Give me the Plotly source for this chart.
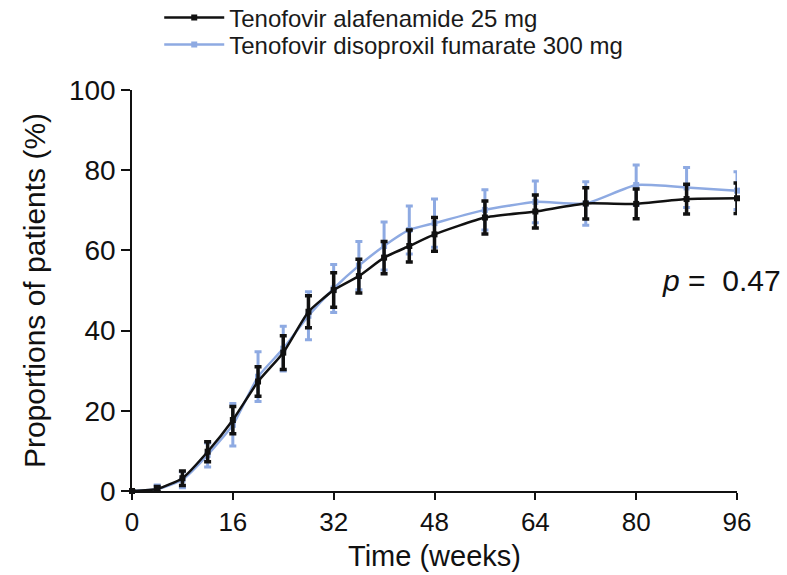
import plotly.graph_objects as go

weeks = [0, 4, 8, 12, 16, 20, 24, 28, 32, 36, 40, 44, 48, 56, 64, 72, 80, 88, 96]

taf_pct = [0, 0.5, 3.2, 9.8, 17.7, 27.3, 34.5, 44.7, 50.1, 53.6, 58.2, 61.1, 64.0,
           68.2, 69.7, 71.7, 71.6, 72.8, 73.0]
taf_err = [0, 0.6, 1.8, 2.5, 3.4, 3.7, 4.2, 4.0, 4.3, 4.2, 4.0, 4.0, 4.2,
           4.1, 4.1, 3.9, 3.7, 3.7, 3.8]

tdf_pct = [0, 0.5, 2.8, 9.0, 16.5, 28.5, 35.5, 43.7, 50.5, 56.2, 61.1, 65.1, 66.8,
           70.1, 72.1, 71.7, 76.3, 75.7, 74.9]
tdf_err = [0, 1.0, 2.0, 3.0, 5.3, 6.2, 5.6, 6.0, 6.0, 6.0, 6.0, 6.0, 6.0,
           5.0, 5.2, 5.4, 5.0, 5.0, 4.7]

x_ticks = [0, 16, 32, 48, 64, 80, 96]
y_ticks = [0, 20, 40, 60, 80, 100]

FONT = "Liberation Sans, Arial, sans-serif"
BLUE = "#8eaae2"
BLACK = "#111111"

fig = go.Figure()

fig.add_trace(go.Scatter(
    x=weeks, y=tdf_pct, mode="lines+markers",
    name="Tenofovir disoproxil fumarate 300 mg", legend="legend2",
    line=dict(color=BLUE, width=2.5, shape="spline", smoothing=0.5),
    marker=dict(symbol="square", size=6, color=BLUE),
    error_y=dict(type="data", array=tdf_err, visible=True,
                 color=BLUE, thickness=3, width=3.5),
    cliponaxis=False,
))

fig.add_trace(go.Scatter(
    x=weeks, y=taf_pct, mode="lines+markers",
    name="Tenofovir alafenamide 25 mg", legend="legend",
    line=dict(color=BLACK, width=2.5, shape="spline", smoothing=0.5),
    marker=dict(symbol="square", size=6, color=BLACK),
    error_y=dict(type="data", array=taf_err, visible=True,
                 color=BLACK, thickness=3.5, width=3.5),
    cliponaxis=False,
))

fig.add_annotation(
    x=1.076, y=0.524, xref="paper", yref="paper",
    text="<i>p</i> =  0.47", showarrow=False,
    xanchor="right", yanchor="middle",
    font=dict(family=FONT, size=30, color="#111111"),
)

# x-axis title placed as an annotation so it sits close under the tick labels
fig.add_annotation(
    x=0.5, y=-0.162, xref="paper", yref="paper",
    text="Time (weeks)", showarrow=False,
    xanchor="center", yanchor="middle",
    font=dict(family=FONT, size=29, color="#111111"),
)

legend_style = dict(
    x=0.045, xanchor="left", yanchor="middle", itemwidth=60,
    font=dict(family=FONT, size=24, color="#1a1a1a"),
    bgcolor="rgba(0,0,0,0)",
)

fig.update_layout(
    width=787, height=575,
    margin=dict(l=132, r=50, t=90, b=84, autoexpand=False),
    paper_bgcolor="white", plot_bgcolor="white",
    font=dict(family=FONT, color="#111111"),
    legend=dict(y=1.1796, **legend_style),
    legend2=dict(y=1.1122, **legend_style),
    showlegend=True,
)

fig.update_xaxes(
    range=[0, 96], tickvals=x_ticks, ticktext=[str(v) for v in x_ticks],
    showgrid=False, zeroline=False, showline=True, linecolor="#111111",
    linewidth=1.5, ticks="outside", ticklen=7, tickwidth=1.5,
    tickcolor="#111111", tickfont=dict(size=26, family=FONT),
    automargin=False,
)

fig.update_yaxes(
    range=[0, 100], tickvals=y_ticks, ticktext=[str(v) for v in y_ticks],
    showgrid=False, zeroline=False, showline=True, linecolor="#111111",
    linewidth=1.5, ticks="outside", ticklen=9, tickwidth=1.5,
    tickcolor="#111111", tickfont=dict(size=28, family=FONT),
    title=dict(text="Proportions of patients (%)", font=dict(size=30, family=FONT),
               standoff=14),
    automargin=False,
)

fig.write_html("out.html")
